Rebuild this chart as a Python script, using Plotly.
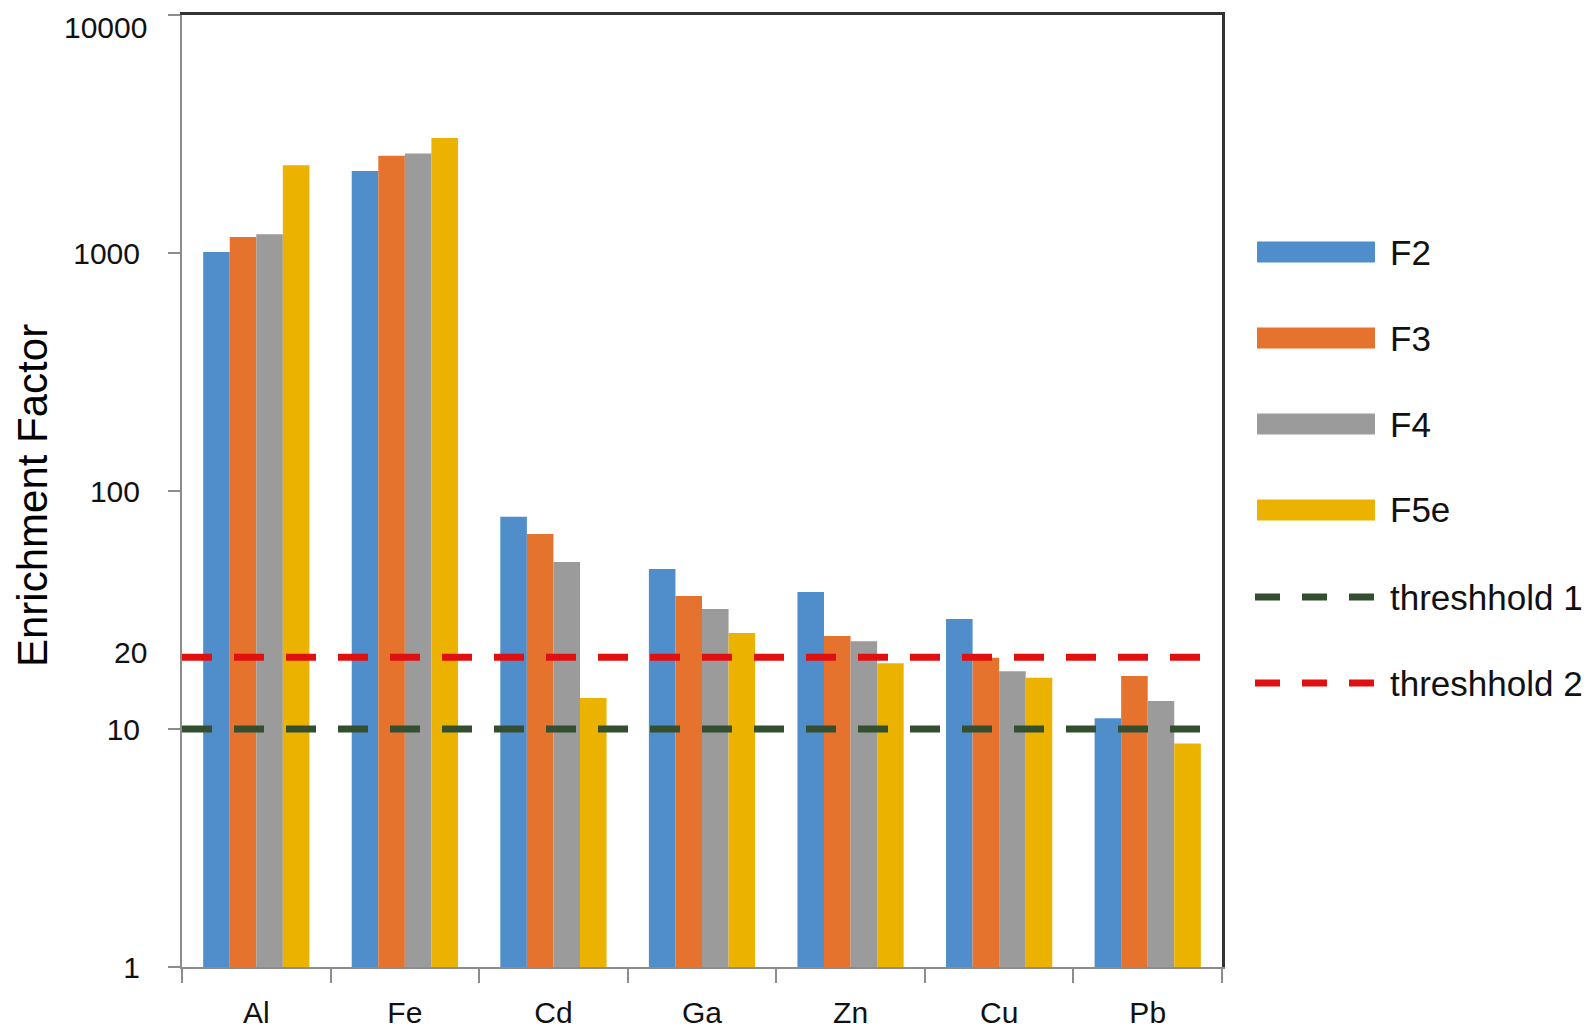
import plotly.graph_objects as go
import math

categories = ["Al", "Fe", "Cd", "Ga", "Zn", "Cu", "Pb"]
series_names = ["F2", "F3", "F4", "F5e"]
f2 = [1010, 2210, 78, 47, 37.6, 29, 11.1]
f3 = [1167, 2560, 66, 36.2, 24.6, 19.9, 16.7]
f4 = [1200, 2620, 50.3, 31.9, 23.4, 17.5, 13.1]
f5e = [2340, 3040, 13.5, 25.3, 18.9, 16.4, 8.7]
series_values = [f2, f3, f4, f5e]
bar_colors = ["#4F8DCB", "#E5722D", "#9B9B9B", "#EBB200"]

threshold_names = ["threshhold 1", "threshhold 2"]
threshold_values = [10, 20]
threshold_colors = ["#344E30", "#E01010"]

y_title = "Enrichment Factor"
y_tickvals = [1, 10, 100, 1000, 10000]
y_ticktext = ["1", "10", "100", "1000", "10000"]
extra_label = 20

# page is rendered with the default 8px body margin
OFF = 8
PAGE_W, PAGE_H = 1595, 1028
PL, PR, PT, PB = 182, 1222, 15, 967   # plot area in page pixels
W, H = PAGE_W - OFF, PAGE_H - OFF
ML, MT = PL - OFF, PT - OFF
MR, MB = W - (PR - OFF), H - (PB - OFF)
PW, PH = PR - PL, PB - PT


def px_x(x):
    return (x - PL) / PW


def px_y(y):
    return (PB - y) / PH


fig = go.Figure()

for name, vals, col in zip(series_names, series_values, bar_colors):
    fig.add_trace(go.Bar(x=categories, y=vals, name=name, marker=dict(color=col, line=dict(width=0)),
                         showlegend=False, xaxis="x", yaxis="y"))

for name, val, col in zip(threshold_names, threshold_values, threshold_colors):
    fig.add_trace(go.Scatter(x=[0, 1], y=[val, val], name=name, mode="lines",
                             line=dict(color=col, width=7, dash="30px,22px"),
                             showlegend=False, xaxis="x2", yaxis="y2"))

# custom legend (Excel style: wide swatches)
shapes = []
annotations = []
legend_rows = [252, 338, 424, 510, 597, 683]
sw_x0, sw_x1, txt_x = 1257, 1375, 1388
for i, (name, col) in enumerate(zip(series_names, bar_colors)):
    yc = legend_rows[i]
    shapes.append(dict(type="rect", xref="paper", yref="paper",
                       x0=px_x(sw_x0), x1=px_x(sw_x1), y0=px_y(yc + 10.5), y1=px_y(yc - 10.5),
                       fillcolor=col, line=dict(width=0)))
    annotations.append(dict(xref="paper", yref="paper", x=px_x(txt_x), y=px_y(yc), text=name,
                            showarrow=False, xanchor="left", yanchor="middle",
                            font=dict(size=35, color="#111")))
for j, (name, col) in enumerate(zip(threshold_names, threshold_colors)):
    yc = legend_rows[4 + j]
    shapes.append(dict(type="line", xref="paper", yref="paper",
                       x0=px_x(sw_x0 - 2), x1=px_x(sw_x1), y0=px_y(yc), y1=px_y(yc),
                       line=dict(color=col, width=7, dash="25px,22px")))
    annotations.append(dict(xref="paper", yref="paper", x=px_x(txt_x), y=px_y(yc), text=name,
                            showarrow=False, xanchor="left", yanchor="middle",
                            font=dict(size=35, color="#111")))

# tick labels drawn as annotations where the axis can't place them (extra "20", top label kept inside page)
top_label = y_ticktext[-1]
axis_ticktext = y_ticktext[:-1] + [""]
annotations.append(dict(x=0, xref="paper", y=math.log10(extra_label), yref="y", text=str(extra_label),
                        showarrow=False, xanchor="right", xshift=-33, yshift=5,
                        font=dict(size=30, color="#111")))
annotations.append(dict(x=0, xref="paper", y=math.log10(y_tickvals[-1]), yref="y", text=top_label,
                        showarrow=False, xanchor="right", xshift=-33, yshift=-12,
                        font=dict(size=30, color="#111")))
# y-axis title (placed further left than the axis title margin clamp allows)
annotations.append(dict(x=px_x(32), xref="paper", y=px_y(496), yref="paper", text=y_title,
                        showarrow=False, xanchor="center", yanchor="middle", textangle=-90,
                        font=dict(size=42, color="black")))

fig.update_layout(
    width=W, height=H,
    margin=dict(l=ML, r=MR, t=MT, b=MB, autoexpand=False),
    paper_bgcolor="white", plot_bgcolor="white",
    barmode="group", bargap=0.285, bargroupgap=0,
    showlegend=False,
    font=dict(family="Liberation Sans, Arial, sans-serif", color="black"),
    xaxis=dict(type="category", showgrid=False, showline=True, linecolor="#8C8C8C", linewidth=2,
               ticks="outside", tickson="boundaries", ticklen=14, tickcolor="#8C8C8C", tickwidth=2,
               tickfont=dict(size=30, color="#111"), ticklabelstandoff=18, zeroline=False,
               automargin=False),
    xaxis2=dict(overlaying="x", side="top", range=[0, 1], showgrid=False, showline=True,
                linecolor="#333333", linewidth=3, showticklabels=False, ticks="", zeroline=False,
                automargin=False),
    yaxis=dict(type="log", range=[0, 4], tickvals=y_tickvals, ticktext=axis_ticktext,
               showgrid=False, showline=True, linecolor="#8C8C8C", linewidth=2,
               ticks="outside", ticklen=12, tickcolor="#8C8C8C", tickwidth=2,
               tickfont=dict(size=30, color="#111"), ticklabelstandoff=22, zeroline=False,
               automargin=False),
    yaxis2=dict(overlaying="y", side="right", type="log", range=[0, 4], showgrid=False,
                showline=True, linecolor="#333333", linewidth=3, showticklabels=False,
                ticks="", zeroline=False, automargin=False),
    shapes=shapes,
    annotations=annotations,
)

fig.write_html("out.html")
